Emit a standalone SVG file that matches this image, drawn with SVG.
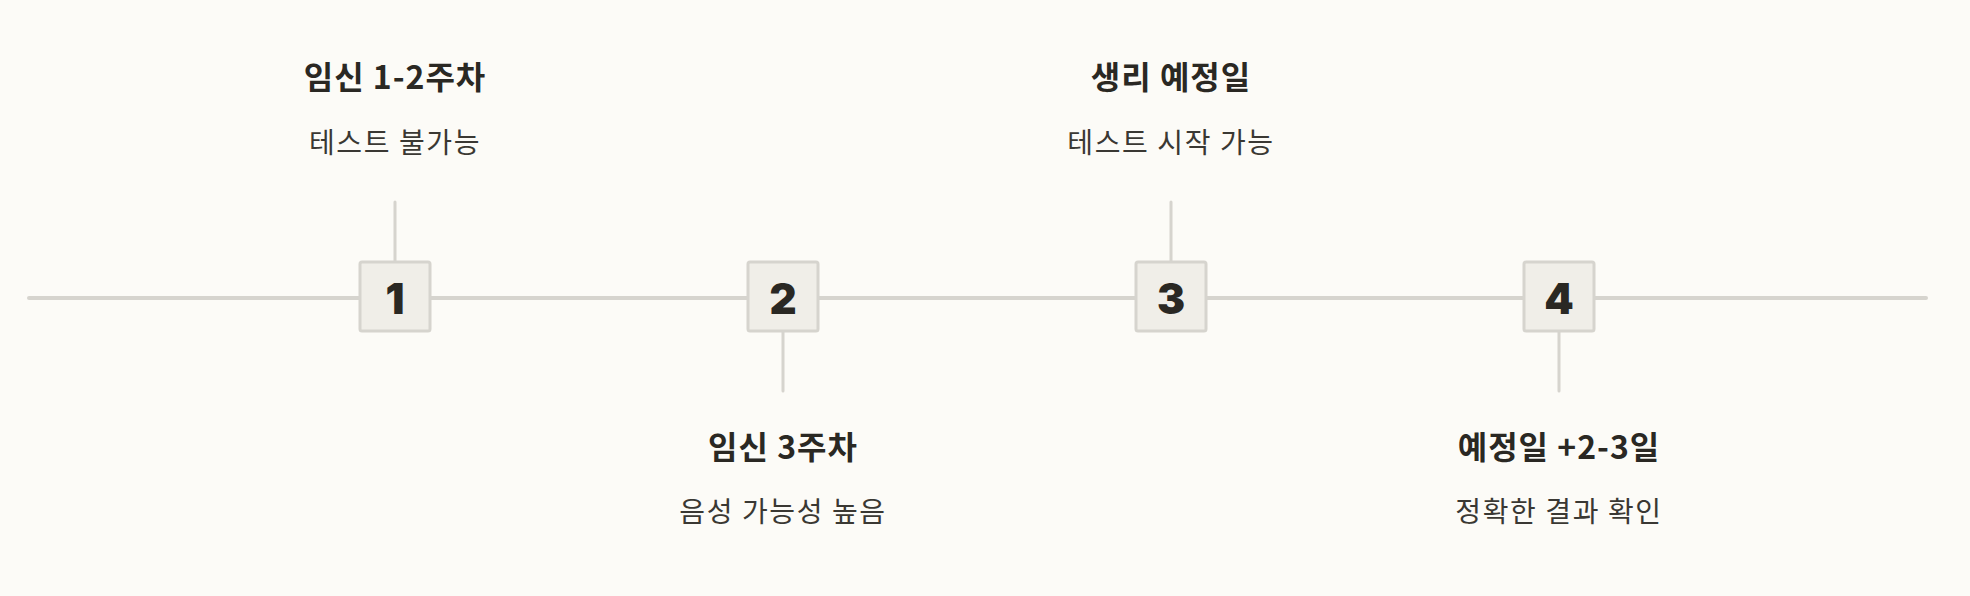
<svg xmlns="http://www.w3.org/2000/svg" width="1970" height="596" viewBox="0 0 1970 596">
<style>
.bg{fill:#fcfbf7}
.axis,.tick{stroke:#d6d4ce;stroke-width:4;stroke-linecap:round}
.tick{stroke-width:3}
.box{fill:#f0eee8;stroke:#d6d4ce;stroke-width:3}
.num{font-family:Inter,"Liberation Sans",sans-serif;font-weight:900;font-size:42px;fill:#2a2823;text-anchor:middle}
.title{font-family:"Noto Sans CJK KR","Noto Sans",sans-serif;font-weight:700;font-size:32px;letter-spacing:1px;fill:#2a2823;text-anchor:middle}
.sub{font-family:"Noto Sans CJK KR","Noto Sans",sans-serif;font-weight:400;font-size:28px;letter-spacing:1.6px;fill:#3a3833;text-anchor:middle}
</style>
<rect class="bg" width="1970" height="596"/>
<g id="connectors">
<line class="axis" x1="29" y1="298" x2="1926" y2="298"/>
<line class="tick" x1="395" y1="202" x2="395" y2="262"/>
<line class="tick" x1="783" y1="331" x2="783" y2="391"/>
<line class="tick" x1="1171" y1="202" x2="1171" y2="262"/>
<line class="tick" x1="1559" y1="331" x2="1559" y2="391"/>
</g>
<g id="node1">
<rect class="box" x="360" y="262" width="70" height="69" rx="2"/>
<text class="num" x="395" y="314">1</text>
<text class="title" x="395" y="89">임신 1-2주차</text>
<text class="sub" x="395" y="153">테스트 불가능</text>
</g>
<g id="node2">
<rect class="box" x="748" y="262" width="70" height="69" rx="2"/>
<text class="num" x="783" y="314">2</text>
<text class="title" x="783" y="459">임신 3주차</text>
<text class="sub" x="783" y="522">음성 가능성 높음</text>
</g>
<g id="node3">
<rect class="box" x="1136" y="262" width="70" height="69" rx="2"/>
<text class="num" x="1171" y="314">3</text>
<text class="title" x="1171" y="89">생리 예정일</text>
<text class="sub" x="1171" y="153">테스트 시작 가능</text>
</g>
<g id="node4">
<rect class="box" x="1524" y="262" width="70" height="69" rx="2"/>
<text class="num" x="1559" y="314">4</text>
<text class="title" x="1559" y="459">예정일 +2-3일</text>
<text class="sub" x="1559" y="522">정확한 결과 확인</text>
</g>
</svg>
